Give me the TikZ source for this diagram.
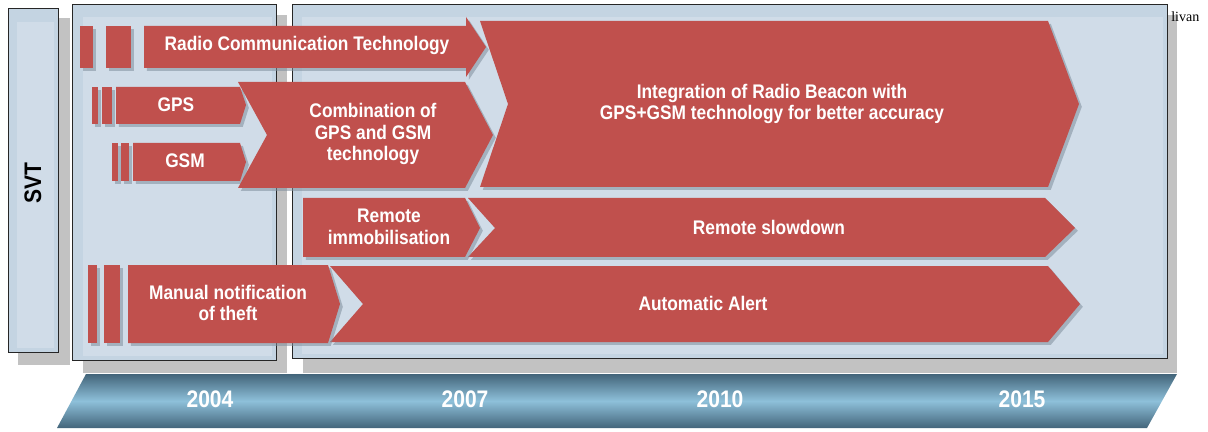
\documentclass[tikz,border=0pt]{standalone}
\usepackage{fontspec}
\setmainfont{Liberation Sans}[FakeStretch=0.88]
\newfontfamily\notefont{Liberation Serif}
\usetikzlibrary{shadows}

\definecolor{barred}{HTML}{C0504D}
\definecolor{boxblue}{HTML}{C4D4E2}
\definecolor{boxinner}{HTML}{D0DCE8}
\definecolor{boxshade}{HTML}{C2C2C2}
\definecolor{barshade}{HTML}{7F8E9C}
\definecolor{ribbondark}{HTML}{43657A}
\definecolor{ribbonlight}{HTML}{8EC0DA}

\begin{document}
\begin{tikzpicture}[x=0.025cm, y=-0.025cm,
		bar/.style={fill=barred, drop shadow={shadow xshift=2pt, shadow yshift=-2pt, opacity=0.55, fill=barshade}},
		lbl/.style={text=white, align=center, font=\fontsize{14}{15.5}\selectfont\bfseries},
		yearlbl/.style={text=white, font=\fontsize{17}{18}\selectfont\bfseries}]
		\useasboundingbox (0,0) rectangle (1208,432);

		% panels and their shadows
		\fill [boxshade] (18,18) rectangle (70,365);
		\fill [boxshade] (83,15) rectangle (287,373);
		\fill [boxshade] (303,15) rectangle (1177,373);
		\draw [fill=boxblue, draw=black!85] (8,8) rectangle (58,352);
		\fill [boxinner] (17,22) rectangle (54,348);
		\draw [fill=boxblue, draw=black!85] (72,4) rectangle (276,360);
		\fill [boxinner] (83,17) rectangle (272,356);
		\draw [fill=boxblue, draw=black!85] (292,4) rectangle (1167,358);
		\fill [boxinner] (302,17) rectangle (1163,354);
		\node [rotate=90, font=\fontsize{17}{18}\selectfont\bfseries] (svt) at (33,183) {SVT};

		% radio communication row
		\fill [bar] (80,26) rectangle (93,68);
		\fill [bar] (106,26) rectangle (131,68);
		\fill [bar] (480,21) -- (1048,21) -- (1079,104) -- (1048,187) -- (480,187) -- (508,104) -- cycle;
		\fill [bar] (144,26) -- (466,26) -- (466,17) -- (486,47) -- (466,77) -- (466,68) -- (144,68) -- cycle;
		\node [lbl] (radio) at (307,45) {Radio Communication Technology};
		\node [lbl] (beacon) at (772,104) {Integration of Radio Beacon with\\GPS+GSM technology for better accuracy};

		% gps and gsm
		\fill [bar] (92,87) rectangle (98,124);
		\fill [bar] (102,87) rectangle (112,124);
		\fill [bar] (116,87) -- (240,87) -- (246,105) -- (240,124) -- (116,124) -- cycle;
		\fill [bar] (112,143) rectangle (118,181);
		\fill [bar] (121,143) rectangle (129,181);
		\fill [bar] (133,143) -- (240,143) -- (246,162) -- (240,181) -- (133,181) -- cycle;
		\fill [bar] (238,82) -- (465,82) -- (493,135) -- (465,188) -- (238,188) -- (267,135) -- cycle;
		\node [lbl] (gps) at (176,105) {GPS};
		\node [lbl] (gsm) at (185,161) {GSM};
		\node [lbl] (combo) at (373,134) {Combination of\\GPS and GSM\\technology};

		% remote row
		\fill [bar] (468,198) -- (1045,198) -- (1075,228) -- (1045,257) -- (468,257) -- (495,228) -- cycle;
		\fill [bar] (303,198) -- (465,198) -- (480,228) -- (465,257) -- (303,257) -- cycle;
		\node [lbl] (immob) at (389,227) {Remote\\immobilisation};
		\node [lbl] (slow) at (769,227) {Remote slowdown};

		% theft row
		\fill [bar] (88,265) rectangle (97,343);
		\fill [bar] (104,265) rectangle (120,343);
		\fill [bar] (330,266) -- (1048,266) -- (1080,304) -- (1048,342) -- (330,342) -- (363,304) -- cycle;
		\fill [bar] (128,265) -- (328,265) -- (340,304) -- (328,343) -- (128,343) -- cycle;
		\node [lbl] (manual) at (228,303) {Manual notification\\of theft};
		\node [lbl] (alert) at (703,303) {Automatic Alert};

		% time line
		\shade [top color=ribbondark, bottom color=ribbondark, middle color=ribbonlight]
			(86,374) -- (1177,374) -- (1147,428) -- (57,428) -- cycle;
		\node [yearlbl] (y2004) at (210,399) {2004};
		\node [yearlbl] (y2007) at (465,399) {2007};
		\node [yearlbl] (y2010) at (720,399) {2010};
		\node [yearlbl] (y2015) at (1022,399) {2015};

		\node [anchor=west, inner sep=0pt, font=\notefont\fontsize{10}{11}\selectfont] (note) at (1171,17) {livan};
	\end{tikzpicture}
\end{document}
